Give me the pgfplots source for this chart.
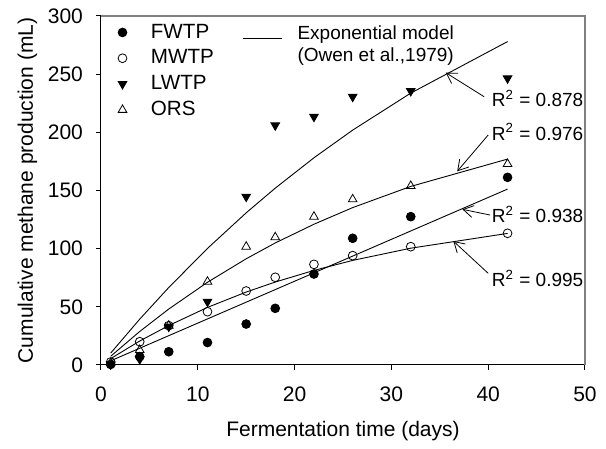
\documentclass[border=0pt]{standalone}
\usepackage{fontspec}
\setmainfont{Liberation Sans}
\usepackage{pgfplots}
\pgfplotsset{compat=1.18}
\usetikzlibrary{arrows.meta}

\pgfplotstableread{
t   FWTP  MWTP  LWTP  ORS
1   0.5   2.5   0.5   1.5
4   7.2   20.0  5.0   12.9
7   11.4  33.8  33.0  33.8
11  19.3  45.8  54.4  71.6
15  35.2  63.6  144.7 101.7
18  48.7  75.4  206.0 109.8
22  78.2  86.5  213.4 127.5
26  108.9 94.0  230.6 142.4
32  127.5 101.7 235.5 153.9
42  161.3 113.2 246.4 172.8
}\measured

% fitted exponential model, values read at the same days
\pgfplotstableread{
t   FWTP  MWTP  LWTP  ORS
1   3.6   5.5   10.2  7.5
4   14.4  20.6  39.4  28.8
7   25.2  33.9  66.6  48.1
11  39.6  49.5  100.2 71.1
15  54.0  62.7  130.8 91.3
18  64.8  71.3  152.0 104.9
22  79.2  81.3  178.1 121.0
26  93.6  89.9  201.9 135.3
32  115.2 100.4 233.7 153.5
42  151.2 113.1 278.0 177.0
}\fitted

\newcommand{\annfont}{\fontsize{9.5}{11}\selectfont}
\newcommand{\legfont}{\fontsize{10.3}{12}\selectfont}
\newcommand{\labfont}{\fontsize{10.5}{12.5}\selectfont}

\begin{document}
\begin{tikzpicture}
\begin{axis}[
    width=242pt, height=174.5pt,
    scale only axis,
    clip=false,
    xmin=0, xmax=50,
    ymin=0, ymax=300,
    axis lines=left,
    axis line style={-, line width=0.5pt},
    tick align=outside,
    major tick length=2.5pt,
    tick style={black, line width=0.5pt},
    xtick={0,10,...,50},
    ytick={0,50,...,300},
    /pgf/number format/assume math mode=true,
    tick label style={font=\labfont},
    xticklabel style={yshift=-5pt},
    yticklabel style={xshift=-3pt},
    xlabel={Fermentation time (days)},
    ylabel={Cumulative methane production (mL)},
    label style={font=\labfont},
    xlabel style={at={(axis description cs:0.5,-0.2063)}, anchor=base},
    ylabel style={at={(axis description cs:-0.1405,0.5)}, anchor=base},
    legend cell align=left,
    legend image code/.code={
        \path (0pt,0pt) (18pt,0pt);
        \draw[#1] plot coordinates {(6pt,0pt)};
    },
    legend style={draw=none, fill=none, font=\legfont,
        at={(axis description cs:0.018,0.99)}, anchor=north west,
        row sep=0.3pt, inner sep=0pt},
]
\addplot[only marks, mark=*, mark size=2.2pt, black] table[x=t, y=FWTP] {\measured};
\addlegendentry{FWTP}
\addplot[only marks, mark=o, mark size=2.2pt, black] table[x=t, y=MWTP] {\measured};
\addlegendentry{MWTP}
\addplot[only marks, mark=triangle*, mark size=2.5pt, mark options={rotate=180}, black] table[x=t, y=LWTP] {\measured};
\addlegendentry{LWTP}
\addplot[only marks, mark=triangle, mark size=2.5pt, black] table[x=t, y=ORS] {\measured};
\addlegendentry{ORS}

\addplot[black, line width=0.45pt, forget plot] table[x=t, y=FWTP] {\fitted};
\addplot[black, line width=0.45pt, forget plot] table[x=t, y=MWTP] {\fitted};
\addplot[black, line width=0.45pt, forget plot] table[x=t, y=LWTP] {\fitted};
\addplot[black, line width=0.45pt, forget plot] table[x=t, y=ORS] {\fitted};

% frame: top and right in grey
\draw[gray, line width=0.65pt] (rel axis cs:0,1) -- (rel axis cs:1,1) -- (rel axis cs:1,0);

% model legend
\draw[black, line width=0.45pt] (axis cs:14.67,281.1) -- (axis cs:18.7,281.1);
\node[anchor=base west, inner sep=0pt, font=\annfont] at (axis cs:20.26,280) {Exponential model};
\node[anchor=base west, inner sep=0pt, font=\annfont] at (axis cs:20.26,261.3) {(Owen et al.,1979)};

% R^2 annotations
\tikzset{ann/.style={-{Straight Barb[length=5pt,width=6pt]}, line width=0.4pt}}
\node[anchor=base west, inner sep=0pt, font=\annfont] at (axis cs:40.35,222.0) {R\textsuperscript{2} = 0.878};
\draw[ann] (axis cs:39.58,230.6) -- (axis cs:35.61,251.3);
\node[anchor=base west, inner sep=0pt, font=\annfont] at (axis cs:40.35,193.4) {R\textsuperscript{2} = 0.976};
\draw[ann] (axis cs:40.0,197.7) -- (axis cs:36.8,166.5);
\node[anchor=base west, inner sep=0pt, font=\annfont] at (axis cs:40.35,122.3) {R\textsuperscript{2} = 0.938};
\draw[ann] (axis cs:40.2,128.9) -- (axis cs:37.34,133.8);
\node[anchor=base west, inner sep=0pt, font=\annfont] at (axis cs:40.35,67.3) {R\textsuperscript{2} = 0.995};
\draw[ann] (axis cs:40.0,78.8) -- (axis cs:36.4,106.5);

% page size
\path (rel axis cs:0,0) ++(-50.5pt,-38.5pt) rectangle ++(303pt,221pt);
\end{axis}
\end{tikzpicture}
\end{document}
